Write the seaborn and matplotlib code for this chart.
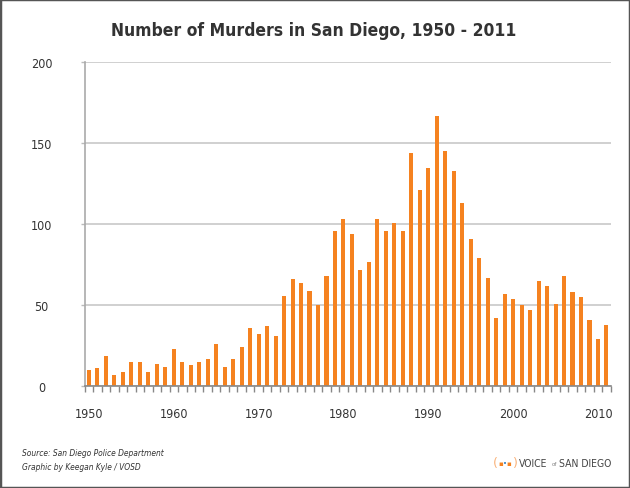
import matplotlib
matplotlib.use("Agg")
import matplotlib.pyplot as plt
from matplotlib import font_manager
from matplotlib.font_manager import FontProperties
from matplotlib.patches import Rectangle
from matplotlib.ticker import FixedLocator
import seaborn as sns
import pandas as pd
import os

years = list(range(1950, 2012))
murders = [10, 11, 19, 7, 9, 15, 15, 9, 14, 12,
           23, 15, 13, 15, 17, 26, 12, 17, 24, 36,
           32, 37, 31, 56, 66, 64, 59, 50, 68, 96,
           103, 94, 72, 77, 103, 96, 101, 96, 144, 121,
           135, 167, 145, 133, 113, 91, 79, 67, 42, 57,
           54, 50, 47, 65, 62, 51, 68, 58, 55, 41,
           29, 38]
y_ticks = [0, 50, 100, 150, 200]
x_label_years = [1950, 1960, 1970, 1980, 1990, 2000, 2010]

title = "Number of Murders in San Diego, 1950 - 2011"
source_lines = ["Source: San Diego Police Department", "Graphic by Keegan Kyle / VOSD"]

df = pd.DataFrame({"year": years, "murders": murders})

sns.set_theme(style="white")
plt.rcParams["font.family"] = ["DejaVu Sans"]

files = {os.path.basename(f.fname): f.fname for f in font_manager.fontManager.ttflist}

def fp(kind, size):
    names = {
        "regular": ["DejaVuSansCondensed.ttf"],
        "bold": ["DejaVuSansCondensed-Bold.ttf"],
        "italic": ["DejaVuSansCondensed-Oblique.ttf"],
    }[kind]
    for n in names:
        if n in files:
            return FontProperties(fname=files[n], size=size)
    weight = "bold" if kind == "bold" else "normal"
    style = "italic" if kind == "italic" else "normal"
    return FontProperties(family="DejaVu Sans", weight=weight, style=style,
                          stretch="condensed", size=size)

W, H = 630, 489
fig = plt.figure(figsize=(W / 100, H / 100), dpi=100)
fig.patch.set_facecolor("white")
ax = fig.add_axes([84.7 / W, 1 - 387.3 / H, (610.7 - 84.7) / W, (387.3 - 63.3) / H])

sns.barplot(data=df, x="year", y="murders", color="#F58220", saturation=1,
            width=0.48, ax=ax, linewidth=0)

ax.set_xlim(-0.5, len(years) - 0.5)
ax.set_ylim(0, 200)
ax.set_yticks(y_ticks)
ax.set_yticklabels([str(v) for v in y_ticks])
for lab in ax.get_yticklabels():
    lab.set_horizontalalignment("center")
    lab.set_fontproperties(fp("regular", 9))
    lab.set_color("#333333")
ax.yaxis.grid(True, color="#c4c4c4", linewidth=1.1)
ax.set_axisbelow(True)
ax.tick_params(axis="y", length=3, width=1, color="#bbbbbb", pad=28, left=True)

pos = [years.index(y) for y in x_label_years]
ax.set_xticks(pos)
ax.set_xticklabels([str(y) for y in x_label_years])
for lab in ax.get_xticklabels():
    lab.set_fontproperties(fp("regular", 9))
    lab.set_color("#333333")
ax.tick_params(axis="x", which="major", length=0, pad=15)
ax.xaxis.set_minor_locator(FixedLocator([i - 0.5 for i in range(len(years) + 1)]))
ax.tick_params(axis="x", which="minor", length=4.5, width=1, color="#888888", bottom=True)
ax.set_xlabel("")
ax.set_ylabel("")

for s in ["top", "right"]:
    ax.spines[s].set_visible(False)
ax.spines["left"].set_color("#aaaaaa")
ax.spines["left"].set_linewidth(1.2)
ax.spines["bottom"].set_color("#888888")
ax.spines["bottom"].set_linewidth(1.2)

def px(x, y):
    return x / W, 1 - y / H

fig.text(*px(314, 31), title, ha="center", va="center",
         fontproperties=fp("bold", 12.5), color="#333333")
fig.text(*px(22, 454), source_lines[0], ha="left", va="center",
         fontproperties=fp("italic", 6), color="#333333")
fig.text(*px(22, 468), source_lines[1], ha="left", va="center",
         fontproperties=fp("italic", 6), color="#333333")

# logo
fig.text(*px(495, 464), "(", ha="center", va="center", fontsize=9, color="#F9B27A")
fig.text(*px(501, 464), "\u25aa", ha="center", va="center", fontsize=5, color="#F58220")
fig.text(*px(505, 464), "\u2022", ha="center", va="center", fontsize=5, color="#2B7BBF")
fig.text(*px(509, 464), "\u25aa", ha="center", va="center", fontsize=5, color="#F58220")
fig.text(*px(515, 464), ")", ha="center", va="center", fontsize=9, color="#F9B27A")
fig.text(*px(519, 464), "VOICE", ha="left", va="center",
         fontproperties=fp("regular", 7.5), color="#444444")
fig.text(*px(552, 465), "of", ha="left", va="center",
         fontproperties=fp("regular", 4.5), color="#888888")
fig.text(*px(559, 464), "SAN DIEGO", ha="left", va="center",
         fontproperties=fp("regular", 7.5), color="#444444")

fig.add_artist(Rectangle((0, 0), 1, 1, transform=fig.transFigure, fill=False,
                         edgecolor="#555555", linewidth=2.5))

fig.savefig("out.png", dpi=100)
